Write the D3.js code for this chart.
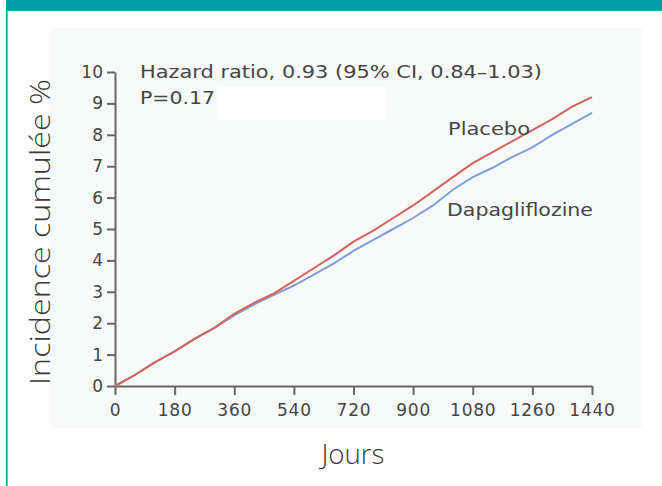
<!DOCTYPE html>
<html lang="fr">
<head>
<meta charset="UTF-8">
<title>Incidence cumulée</title>
<script src="https://cdnjs.cloudflare.com/ajax/libs/d3/7.8.5/d3.min.js"></script>
<style>
  body { margin: 0; background: #fff; }
  svg { display: block; }
</style>
</head>
<body>
<div id="chart"></div>
<script>
// data
var days = [0, 60, 120, 180, 240, 300, 360, 420, 480, 540, 600, 660, 720,
            780, 840, 900, 960, 1020, 1080, 1140, 1200, 1260, 1320, 1380, 1440];
var placebo = [0, 0.35, 0.75, 1.1, 1.5, 1.85, 2.3, 2.65, 2.95, 3.35, 3.75, 4.15, 4.6,
               4.95, 5.35, 5.75, 6.2, 6.65, 7.1, 7.45, 7.8, 8.15, 8.5, 8.9, 9.2];
var dapagliflozine = [0, 0.35, 0.75, 1.1, 1.5, 1.85, 2.25, 2.6, 2.9, 3.2, 3.55, 3.9, 4.3,
                      4.65, 5.0, 5.35, 5.75, 6.25, 6.65, 6.95, 7.3, 7.6, 8.0, 8.35, 8.7];
var xTicks = [0, 180, 360, 540, 720, 900, 1080, 1260, 1440];
var yTicks = [0, 1, 2, 3, 4, 5, 6, 7, 8, 9, 10];

var width = 662, height = 486;
var teal = '#009fa8';
var redColor = '#d2645c';
var blueColor = '#809fd8';
var textColor = '#454545';
var axisColor = '#666';

var svg = d3.select('#chart')
  .append('svg')
  .attr('width', width)
  .attr('height', height);

// frame
svg.append('rect').attr('x', 6).attr('y', 0).attr('width', width - 6).attr('height', 11).attr('fill', teal);
svg.append('rect').attr('x', 6).attr('y', 0).attr('width', 1.6).attr('height', height).attr('fill', teal);

// light panel behind the chart
svg.append('rect').attr('x', 50).attr('y', 28).attr('width', 592).attr('height', 400).attr('fill', '#f8f9f9');

var x = d3.scaleLinear().domain([0, 1440]).range([115, 592]);
var y = d3.scaleLinear().domain([0, 10]).range([386, 72]);

// axes
var gx = svg.append('g')
  .attr('transform', 'translate(0,' + y(0) + ')')
  .call(d3.axisBottom(x).tickValues(xTicks).tickFormat(d3.format('d'))
    .tickSize(9).tickSizeOuter(0).tickPadding(7));
var gy = svg.append('g')
  .attr('transform', 'translate(' + x(0) + ',0)')
  .call(d3.axisLeft(y).tickValues(yTicks).tickFormat(d3.format('d'))
    .tickSize(8).tickSizeOuter(0).tickPadding(4));

[gx, gy].forEach(function (g) {
  g.select('.domain').attr('stroke', axisColor).attr('stroke-width', 2);
  g.selectAll('.tick line').attr('stroke', axisColor).attr('stroke-width', 2);
  g.selectAll('.tick text')
    .attr('fill', textColor)
    .style('font-family', 'DejaVu Sans, sans-serif')
    .style('font-size', '17px')
    .style('font-weight', 500);
});
gx.selectAll('.tick text').attr('dy', '0.85em').style('letter-spacing', '0.8px');

// curves
var line = d3.line()
  .x(function (d) { return x(d[0]); })
  .y(function (d) { return y(d[1]); });

svg.append('path')
  .datum(days.map(function (d, i) { return [d, dapagliflozine[i]]; }))
  .attr('d', line)
  .attr('fill', 'none')
  .attr('stroke', blueColor)
  .attr('stroke-width', 2);

svg.append('path')
  .datum(days.map(function (d, i) { return [d, placebo[i]]; }))
  .attr('d', line)
  .attr('fill', 'none')
  .attr('stroke', redColor)
  .attr('stroke-width', 2);

// annotations
var annot = svg.append('g')
  .attr('fill', textColor)
  .style('font-family', 'DejaVu Sans, sans-serif')
  .style('font-size', '17px');

annot.append('text').attr('x', 140).attr('y', 78)
  .attr('textLength', 402).attr('lengthAdjust', 'spacingAndGlyphs')
  .text('Hazard ratio, 0.93 (95% CI, 0.84–1.03)');
annot.append('text').attr('x', 140).attr('y', 104)
  .attr('textLength', 75).attr('lengthAdjust', 'spacingAndGlyphs')
  .text('P=0.17');
svg.append('rect').attr('x', 218).attr('y', 87).attr('width', 169).attr('height', 33).attr('fill', '#fff');

annot.append('text').attr('x', 448).attr('y', 135)
  .attr('textLength', 82).attr('lengthAdjust', 'spacingAndGlyphs')
  .text('Placebo');
annot.append('text').attr('x', 447).attr('y', 216)
  .attr('textLength', 146).attr('lengthAdjust', 'spacingAndGlyphs')
  .text('Dapagliflozine');

// axis titles
svg.append('text')
  .attr('transform', 'translate(50,232) rotate(-90)')
  .attr('text-anchor', 'middle')
  .attr('fill', '#3a3a3a')
  .attr('textLength', 306).attr('lengthAdjust', 'spacingAndGlyphs')
  .style('font-family', 'Open Sans, sans-serif')
  .style('font-weight', 300)
  .style('font-size', '27px')
  .text('Incidence cumulée %');

svg.append('text')
  .attr('x', 353).attr('y', 464)
  .attr('text-anchor', 'middle')
  .attr('fill', '#3a3a3a')
  .attr('textLength', 63).attr('lengthAdjust', 'spacingAndGlyphs')
  .style('font-family', 'Open Sans, sans-serif')
  .style('font-weight', 300)
  .style('font-size', '27px')
  .text('Jours');
</script>
</body>
</html>
